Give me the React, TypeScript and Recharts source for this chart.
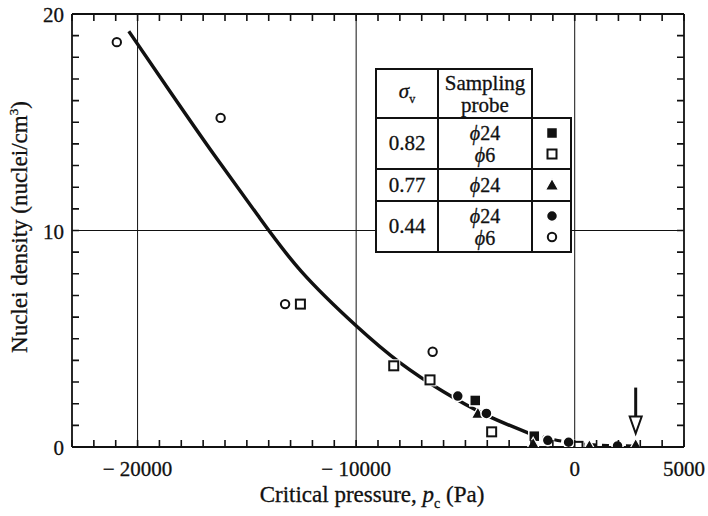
import React from "react";
import { ComposedChart, Line, Scatter, XAxis, YAxis, ReferenceLine } from "recharts";

if (typeof document !== "undefined") document.body.style.margin = "0";

// measured points, x = critical pressure (Pa), y = nuclei density (nuclei/cm3)
const filledSquares = [
  { x: -4550, y: 2.15 },
  { x: -1850, y: 0.5 },
];
const openSquares = [
  { x: -12550, y: 6.6 },
  { x: -8280, y: 3.75 },
  { x: -6620, y: 3.1 },
  { x: -3800, y: 0.7 },
  { x: 150, y: 0.03 },
];
const filledTriangles = [
  { x: -4430, y: 1.55 },
  { x: -1900, y: 0.15 },
  { x: 670, y: 0.05 },
  { x: 2790, y: 0.1 },
];
const filledCircles = [
  { x: -5350, y: 2.35 },
  { x: -4040, y: 1.55 },
  { x: -1230, y: 0.31 },
  { x: -280, y: 0.22 },
  { x: 1960, y: 0.05 },
];
const openCircles = [
  { x: -20950, y: 18.7 },
  { x: -16200, y: 15.2 },
  { x: -13250, y: 6.6 },
  { x: -6500, y: 4.4 },
];

// fitted curve
const curve = [
  { x: -20400, y: 19.2 },
  { x: -18500, y: 16.4 },
  { x: -16500, y: 13.5 },
  { x: -14500, y: 10.7 },
  { x: -12500, y: 8.1 },
  { x: -10000, y: 5.6 },
  { x: -8000, y: 3.9 },
  { x: -6000, y: 2.55 },
  { x: -4000, y: 1.45 },
  { x: -2000, y: 0.6 },
];
const curveTail = [
  { x: -2000, y: 0.6 },
  { x: -1000, y: 0.35 },
  { x: 0, y: 0.18 },
  { x: 1500, y: 0.07 },
  { x: 2800, y: 0.05 },
];
const arrowMark = [{ x: 2790, y: 0.62 }];

const xTicks = Array.from({ length: 29 }, (_, i) => -23000 + i * 1000);
const xLabels = [-20000, -10000, 0, 5000];
const yTicks = Array.from({ length: 21 }, (_, i) => i);
const yLabels = [0, 10, 20];
const xGrid = [-20000, -10000, 0];
const yGrid = [10];
const X_DOMAIN = [-23000, 5000];
const Y_DOMAIN = [0, 20];

const legendRows = [
  { sigma: "0.82", probes: ["ϕ24", "ϕ6"], marks: ["fs", "os"] },
  { sigma: "0.77", probes: ["ϕ24"], marks: ["ft"] },
  { sigma: "0.44", probes: ["ϕ24", "ϕ6"], marks: ["fc", "oc"] },
];

const W = 708;
const H = 516;
const M = { top: 14, right: 24, left: 0, bottom: 0 };
const Y_W = 72;
const X_H = 69;
const PLOT_W = W - Y_W - M.right;
const PLOT_H = H - M.top - X_H;
const INK = "#111";
const FONT = "'Liberation Serif', 'DejaVu Serif', serif";
const TICK_PX = 7;

const fmt = (v: number) => (v < 0 ? "\u2212 " + Math.abs(v) : String(v));

// bottom axis tick: inward mark at the bottom and the top frame, plus label for the major values
const XTick = (p: any) => {
  const { x, y, payload } = p;
  const v = payload.value;
  return (
    <g>
      <path d={`M${x},${y}V${y - TICK_PX}M${x},${y - PLOT_H}V${y - PLOT_H + TICK_PX}`} stroke={INK} strokeWidth={1.6} fill="none" />
      {xLabels.includes(v) && (
        <text x={x} y={y + 29} textAnchor="middle" fontFamily={FONT} fontSize={21} fill={INK} stroke={INK} strokeWidth={0.3}>
          {fmt(v)}
        </text>
      )}
    </g>
  );
};

const YTick = (p: any) => {
  const { x, y, payload } = p;
  const v = payload.value;
  return (
    <g>
      <path d={`M${x},${y}H${x + TICK_PX}M${x + PLOT_W},${y}H${x + PLOT_W - TICK_PX}`} stroke={INK} strokeWidth={1.6} fill="none" />
      {yLabels.includes(v) && (
        <text x={x - 8} y={y + 8} textAnchor="end" fontFamily={FONT} fontSize={21} fill={INK} stroke={INK} strokeWidth={0.3}>
          {v}
        </text>
      )}
    </g>
  );
};

const Mark = ({ kind, cx, cy }: { kind: string; cx: number; cy: number }) => {
  switch (kind) {
    case "fs":
      return (
        <rect x={cx - 5.5} y={cy - 5.5} width={11} height={11} fill={INK} stroke="#fff" strokeWidth={1.5} />
      );
    case "os":
      return (
        <g>
          <rect x={cx - 6.5} y={cy - 6.5} width={13} height={13} fill="#fff" />
          <rect x={cx - 4.5} y={cy - 4.5} width={9} height={9} fill="#fff" stroke={INK} strokeWidth={2} />
        </g>
      );
    case "ft":
      return (
        <polygon
          points={`${cx},${cy - 6.5} ${cx + 6.5},${cy + 5} ${cx - 6.5},${cy + 5}`}
          fill={INK}
          stroke="#fff"
          strokeWidth={1.2}
        />
      );
    case "fc":
      return <circle cx={cx} cy={cy} r={5.5} fill={INK} stroke="#fff" strokeWidth={1.5} />;
    default:
      return (
        <g>
          <circle cx={cx} cy={cy} r={6.5} fill="#fff" />
          <circle cx={cx} cy={cy} r={4.2} fill="#fff" stroke={INK} strokeWidth={2} />
        </g>
      );
  }
};

const Arrow = (p: any) => {
  const { cx, cy } = p;
  return (
    <g>
      <line x1={cx} x2={cx} y1={cy - 46} y2={cy - 17} stroke={INK} strokeWidth={3} />
      <polygon
        points={`${cx - 6},${cy - 17} ${cx + 6},${cy - 17} ${cx},${cy}`}
        fill="#fff"
        stroke={INK}
        strokeWidth={2}
      />
    </g>
  );
};

const cellBorder = `2px solid ${INK}`;
const textInk = { color: INK, WebkitTextStroke: "0.3px " + INK } as React.CSSProperties;

const LegendMark = ({ kind }: { kind: string }) => (
  <svg width={16} height={16} style={{ display: "block", margin: "0 auto" }}>
    <Mark kind={kind} cx={8} cy={8} />
  </svg>
);

const LegendTable = () => (
  <table
    style={{
      position: "absolute",
      left: 375,
      top: 68,
      borderCollapse: "collapse",
      fontFamily: FONT,
      fontSize: 21,
      textAlign: "center",
      ...textInk,
    }}
  >
    <tbody>
      <tr style={{ height: 49 }}>
        <td style={{ border: cellBorder, width: 60, background: "#fff", padding: 0 }}>
          <i>σ</i>
          <sub style={{ fontSize: 12 }}>v</sub>
        </td>
        <td style={{ border: cellBorder, width: 92, background: "#fff", padding: 0, lineHeight: "22px" }}>
          <div>Sampling</div>
          <div>probe</div>
        </td>
        <td style={{ width: 38, padding: 0 }} />
      </tr>
      {legendRows.map((r) => (
        <tr key={r.sigma} style={{ height: r.probes.length > 1 ? 51 : 32 }}>
          <td style={{ border: cellBorder, background: "#fff", padding: 0 }}>{r.sigma}</td>
          <td style={{ border: cellBorder, background: "#fff", padding: 0, lineHeight: "22px", fontSize: 20 }}>
            {r.probes.map((t) => (
              <div key={t}>
                <i>{t[0]}</i>
                {t.slice(1)}
              </div>
            ))}
          </td>
          <td style={{ border: cellBorder, background: "#fff", padding: 0 }}>
            {r.marks.map((k) => (
              <div key={k} style={{ height: 21, display: "flex", alignItems: "center" }}>
                <LegendMark kind={k} />
              </div>
            ))}
          </td>
        </tr>
      ))}
    </tbody>
  </table>
);

const series = [
  { key: "fs", data: filledSquares },
  { key: "os", data: openSquares },
  { key: "ft", data: filledTriangles },
  { key: "fc", data: filledCircles },
  { key: "oc", data: openCircles },
];

export default function App() {
  return (
    <div style={{ position: "relative", width: W, height: H, background: "#fff" }}>
      <ComposedChart width={W} height={H} margin={M}>
        <XAxis
          dataKey="x"
          type="number"
          domain={X_DOMAIN}
          ticks={xTicks}
          interval={0}
          allowDataOverflow
          height={X_H}
          tickLine={false}
          tickSize={0}
          tickMargin={0}
          tick={<XTick />}
          axisLine={{ stroke: INK, strokeWidth: 1.8 }}
        />
        <YAxis
          dataKey="y"
          type="number"
          domain={Y_DOMAIN}
          ticks={yTicks}
          interval={0}
          allowDataOverflow
          width={Y_W}
          tickLine={false}
          tickSize={0}
          tickMargin={0}
          tick={<YTick />}
          axisLine={{ stroke: INK, strokeWidth: 1.8 }}
        />
        {xGrid.map((v) => (
          <ReferenceLine key={"gx" + v} x={v} stroke={INK} strokeWidth={1} />
        ))}
        {yGrid.map((v) => (
          <ReferenceLine key={"gy" + v} y={v} stroke={INK} strokeWidth={1} />
        ))}
        <ReferenceLine y={Y_DOMAIN[1]} stroke={INK} strokeWidth={1.8} />
        <ReferenceLine x={X_DOMAIN[1]} stroke={INK} strokeWidth={1.8} />
        <Line
          data={curve}
          dataKey="y"
          type="natural"
          stroke={INK}
          strokeWidth={3.5}
          dot={false}
          activeDot={false}
          isAnimationActive={false}
        />
        <Line
          data={curveTail}
          dataKey="y"
          type="monotone"
          stroke={INK}
          strokeWidth={3}
          strokeDasharray="7 5"
          dot={false}
          activeDot={false}
          isAnimationActive={false}
        />
        {series.map((s) => (
          <Scatter
            key={s.key}
            data={s.data}
            isAnimationActive={false}
            shape={(p: any) => <Mark kind={s.key} cx={p.cx} cy={p.cy} />}
          />
        ))}
        <Scatter data={arrowMark} isAnimationActive={false} shape={<Arrow />} />
      </ComposedChart>
      <LegendTable />
      <div
        style={{
          position: "absolute",
          left: 372 - 200,
          width: 400,
          top: 482,
          lineHeight: "26px",
          textAlign: "center",
          fontFamily: FONT,
          fontSize: 23,
          ...textInk,
        }}
      >
        Critical pressure, <i>p</i>
        <sub style={{ fontSize: 14, lineHeight: 0 }}>c</sub> (Pa)
      </div>
      <div
        style={{
          position: "absolute",
          left: 20 - 170,
          top: 227 - 13,
          width: 340,
          height: 26,
          lineHeight: "26px",
          transform: "rotate(-90deg)",
          textAlign: "center",
          fontFamily: FONT,
          fontSize: 23,
          ...textInk,
        }}
      >
        Nuclei density (nuclei/cm<sup style={{ fontSize: 13, lineHeight: 0 }}>3</sup>)
      </div>
    </div>
  );
}
